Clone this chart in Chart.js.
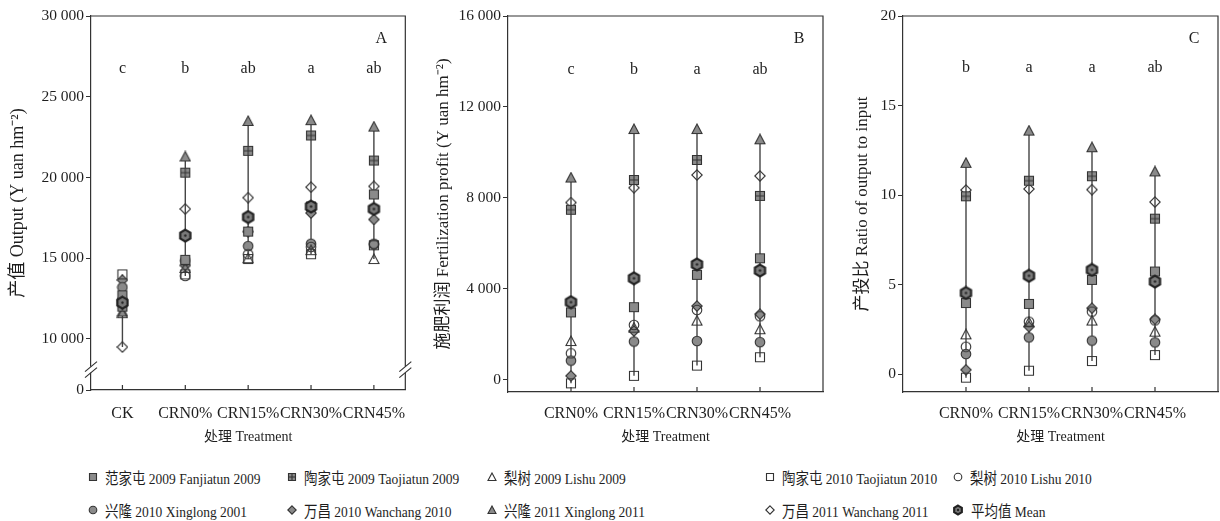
<!DOCTYPE html>
<html>
<head>
<meta charset="utf-8">
<script src="https://cdn.jsdelivr.net/npm/chart.js@4.4.1/dist/chart.umd.min.js"></script>
<style>
  body { margin: 0; background: #fff; width: 1220px; height: 521px; overflow: hidden; position: relative;
         font-family: "Liberation Serif", "Noto Sans CJK SC", serif; color: #1e1e1e; }
  canvas.panel { position: absolute; top: 0; }
  #legend .item { position: absolute; height: 20px; display: flex; align-items: center; white-space: nowrap; }
  #legend .item canvas { display: block; margin-right: 7px; }
  #legend .item span { display: inline-block; font-size: 15.5px; transform: scaleX(0.87); transform-origin: left center; }
</style>
</head>
<body>
<canvas id="chartA" class="panel" style="left:0px" width="420" height="450"></canvas>
<canvas id="chartB" class="panel" style="left:426px" width="404" height="450"></canvas>
<canvas id="chartC" class="panel" style="left:845px" width="380" height="450"></canvas>
<div id="legend"></div>
<script>
// treatments
const treatA = ['CK', 'CRN0%', 'CRN15%', 'CRN30%', 'CRN45%'];
const treatBC = ['CRN0%', 'CRN15%', 'CRN30%', 'CRN45%'];

const siteNames = [
    '范家屯 2009 Fanjiatun 2009', '陶家屯 2009 Taojiatun 2009', '梨树 2009 Lishu 2009',
    '陶家屯 2010 Taojiatun 2010', '梨树 2010 Lishu 2010', '兴隆 2010 Xinglong 2001',
    '万昌 2010 Wanchang 2010', '兴隆 2011 Xinglong 2011', '万昌 2011 Wanchang 2011', '平均值 Mean'
];

// A: 产值 Output (Yuan/hm2), CK..CRN45%
const outFanjiatun09 = [12700, 14900, 16650, 18200, 18950];
const outTaojiatun09 = [12000, 20300, 21650, 22600, 21050];
const outLishu09     = [11600, 14400, 15000, 15500, 14950];
const outTaojiatun10 = [14000, 14000, 14950, 15250, 15800];
const outLishu10     = [12400, 13900, 15250, 15700, 15900];
const outXinglong10  = [13200, 14850, 15750, 15900, 15850];
const outWanchang10  = [13650, 14550, 16650, 17800, 17400];
const outXinglong11  = [11700, 21300, 23500, 23550, 23150];
const outWanchang11  = [9500, 18050, 18750, 19400, 19450];
const outMean        = [12250, 16400, 17550, 18200, 18050];

// B: 施肥利润 Fertilization profit, CRN0%..CRN45%
const proFanjiatun09 = [2970, 3200, 4620, 5350];
const proTaojiatun09 = [7480, 8790, 9670, 8090];
const proLishu09     = [1710, 2300, 2610, 2230];
const proTaojiatun10 = [-150, 180, 630, 1000];
const proLishu10     = [1170, 2420, 3080, 2800];
const proXinglong10  = [850, 1690, 1710, 1660];
const proWanchang10  = [180, 2150, 3250, 2890];
const proXinglong11  = [8900, 11030, 11030, 10580];
const proWanchang11  = [7800, 8450, 9010, 8970];
const proMean        = [3420, 4470, 5080, 4810];

// C: 产投比 Ratio of output to input
const ratFanjiatun09 = [3.97, 3.92, 5.26, 5.73];
const ratTaojiatun09 = [9.93, 10.8, 11.05, 8.68];
const ratLishu09     = [2.22, 2.9, 2.99, 2.37];
const ratTaojiatun10 = [-0.2, 0.19, 0.73, 1.06];
const ratLishu10     = [1.53, 2.93, 3.49, 3.0];
const ratXinglong10  = [1.12, 2.05, 1.87, 1.77];
const ratWanchang10  = [0.24, 2.65, 3.68, 3.06];
const ratXinglong11  = [11.8, 13.6, 12.67, 11.32];
const ratWanchang11  = [10.28, 10.34, 10.3, 9.61];
const ratMean        = [4.53, 5.49, 5.82, 5.17];

// significance letters
const sigOut = ['c', 'b', 'ab', 'a', 'ab'];
const sigPro = ['c', 'b', 'a', 'ab'];
const sigRat = ['b', 'a', 'a', 'ab'];

// y tick labels
const outTicks = [10000, 15000, 20000, 25000, 30000];
const outFloor = 6840;   // broken axis, shown as 0
const proTicks = [0, 4000, 8000, 12000, 16000];
const ratTicks = [0, 5, 10, 15, 20];

const siteMarkers = ['sqFill', 'sqCross', 'triOpen', 'sqOpen', 'circOpen', 'circFill', 'diaFill', 'triFill', 'diaOpen', 'mean'];

const textColor = '#1e1e1e';
const serif = '"Liberation Serif", "Noto Sans CJK SC", serif';
Chart.defaults.font.family = serif;
Chart.defaults.color = textColor;

function fmt(v) {
    return String(v).replace(/\B(?=(\d{3})+(?!\d))/g, ' ');
}

function makeMarker(kind, s) {
    const c = document.createElement('canvas');
    c.width = s;
    c.height = s;
    const g = c.getContext('2d');
    const m = s / 2;
    g.lineWidth = 1.1;
    g.strokeStyle = '#333';
    g.fillStyle = '#8a8a8a';
    g.beginPath();
    if (kind.startsWith('sq')) {
        g.rect(1.5, 1.5, s - 3, s - 3);
    } else if (kind.startsWith('circ')) {
        g.arc(m, m, m - 1.2, 0, Math.PI * 2);
    } else if (kind.startsWith('tri')) {
        g.moveTo(m, 1); g.lineTo(s - 1, s - 1.5); g.lineTo(1, s - 1.5); g.closePath();
    } else if (kind.startsWith('dia')) {
        g.moveTo(m, 0.8); g.lineTo(s - 0.8, m); g.lineTo(m, s - 0.8); g.lineTo(0.8, m); g.closePath();
    } else {
        for (let i = 0; i < 6; i++) {
            const a = Math.PI / 3 * i - Math.PI / 2;
            const px = m + (m - 1.6) * Math.cos(a), py = m + (m - 1.6) * Math.sin(a);
            i ? g.lineTo(px, py) : g.moveTo(px, py);
        }
        g.closePath();
        g.lineWidth = 2.2;
        g.strokeStyle = '#222';
        g.fillStyle = '#7a7a7a';
    }
    if (!kind.endsWith('Open')) g.fill();
    g.stroke();
    if (kind === 'sqCross') {
        g.beginPath();
        g.moveTo(m, 1.5); g.lineTo(m, s - 1.5);
        g.moveTo(1.5, m); g.lineTo(s - 1.5, m);
        g.stroke();
    }
    if (kind === 'mean') {
        g.fillStyle = '#222';
        g.beginPath();
        g.arc(m, m, 1.2, 0, Math.PI * 2);
        g.fill();
    }
    return c;
}

function decor(cfg) {
    return {
        id: 'decor',
        afterDraw(chart) {
            const {ctx, chartArea: a, scales: {x, y}} = chart;
            ctx.save();
            ctx.strokeStyle = '#333';
            ctx.lineWidth = 1.2;
            ctx.beginPath();
            ctx.moveTo(a.left, a.top);
            ctx.lineTo(a.right, a.top);
            ctx.lineTo(a.right, a.bottom);
            x.ticks.forEach(t => {
                const px = x.getPixelForValue(t.value);
                ctx.moveTo(px, a.bottom);
                ctx.lineTo(px, a.bottom - 5);
            });
            ctx.stroke();
            if (cfg.breakAt != null) {
                const py = y.getPixelForValue(cfg.breakAt);
                [a.left, a.right].forEach(ex => {
                    ctx.fillStyle = '#fff';
                    ctx.fillRect(ex - 2, py - 3, 4, 6);
                    ctx.beginPath();
                    for (const d of [-3, 3]) {
                        ctx.moveTo(ex - 6, py + d + 5);
                        ctx.lineTo(ex + 6, py + d - 5);
                    }
                    ctx.stroke();
                });
            }
            ctx.fillStyle = textColor;
            ctx.font = '16px ' + serif;
            ctx.textAlign = 'center';
            ctx.textBaseline = 'middle';
            cfg.sig.forEach((s, i) => ctx.fillText(s, x.getPixelForValue(i + 1), y.getPixelForValue(cfg.sigAt)));
            ctx.fillText(cfg.letter, a.right - 24, a.top + 23);
            ctx.restore();
        }
    };
}

function makePanel(id, cfg) {
    const series = cfg.series;
    const datasets = [];
    // whisker from lowest to highest value of each treatment
    cfg.cats.forEach((c, i) => {
        const vals = series.map(s => s[i]);
        datasets.push({
            type: 'line',
            data: [{x: i + 1, y: Math.min(...vals)}, {x: i + 1, y: Math.max(...vals)}],
            borderColor: '#444',
            borderWidth: 1.4,
            pointRadius: 0,
            showLine: true,
            order: 10
        });
    });
    series.forEach((s, k) => {
        datasets.push({
            label: siteNames[k],
            data: s.map((v, i) => ({x: i + 1, y: v})),
            pointStyle: makeMarker(siteMarkers[k], k === 9 ? 15 : 12),
            pointRadius: 6,
            order: k === 9 ? -1 : 1
        });
    });

    const tickFont = {size: 15.5, family: serif};
    new Chart(document.getElementById(id), {
        type: 'scatter',
        data: {datasets},
        options: {
            responsive: false,
            animation: false,
            events: [],
            layout: {padding: {top: 16, right: cfg.padRight, left: 0, bottom: 0}},
            plugins: {legend: {display: false}, tooltip: {enabled: false}},
            scales: {
                x: {
                    type: 'linear',
                    min: cfg.xMin,
                    max: cfg.xMax,
                    afterBuildTicks: sc => { sc.ticks = cfg.cats.map((c, i) => ({value: i + 1})); },
                    ticks: {callback: v => cfg.cats[v - 1] || '', font: {size: 16, family: serif}, padding: cfg.xPad, autoSkip: false, maxRotation: 0},
                    grid: {drawOnChartArea: false, drawTicks: false},
                    border: {color: '#333', width: 1.2},
                    title: {display: true, text: '处理 Treatment', font: {size: 14, family: serif}, padding: {top: 4, bottom: 4}},
                    afterFit: sc => { sc.height = cfg.xHeight; }
                },
                y: {
                    min: cfg.yMin,
                    max: cfg.yMax,
                    afterBuildTicks: sc => { sc.ticks = cfg.yTicks.map(v => ({value: v})); },
                    ticks: {callback: cfg.yLabel, font: tickFont, padding: 2},
                    grid: {drawOnChartArea: false, tickLength: 5, tickColor: '#333'},
                    border: {color: '#333', width: 1.2},
                    title: {display: true, text: cfg.yTitle, font: {size: cfg.yTitleSize, family: serif}, padding: {top: 7, bottom: 0}},
                    afterFit: sc => { sc.width = cfg.yWidth; }
                }
            }
        },
        plugins: [decor(cfg)]
    });
}

makePanel('chartA', {
    cats: treatA, xMin: 0.5, xMax: 5.5,
    series: [outFanjiatun09, outTaojiatun09, outLishu09, outTaojiatun10, outLishu10,
             outXinglong10, outWanchang10, outXinglong11, outWanchang11, outMean],
    yMin: outFloor, yMax: 30000,
    yTicks: [outFloor, ...outTicks],
    yLabel: v => v === outFloor ? '0' : fmt(v),
    yTitle: '产值 Output (Y uan hm⁻²)', yTitleSize: 18,
    yWidth: 91, padRight: 10, xHeight: 60, xPad: 14,
    sig: sigOut, sigAt: 26700, letter: 'A', breakAt: 8100
});

makePanel('chartB', {
    cats: treatBC, xMin: 0, xMax: 5,
    series: [proFanjiatun09, proTaojiatun09, proLishu09, proTaojiatun10, proLishu10,
             proXinglong10, proWanchang10, proXinglong11, proWanchang11, proMean],
    yMin: -530, yMax: 16000,
    yTicks: proTicks,
    yLabel: v => fmt(v),
    yTitle: '施肥利润 Fertilization profit (Y uan hm⁻²)', yTitleSize: 17,
    yWidth: 82, padRight: 6, xHeight: 58, xPad: 12,
    sig: sigPro, sigAt: 13650, letter: 'B'
});

makePanel('chartC', {
    cats: treatBC, xMin: 0, xMax: 5,
    series: [ratFanjiatun09, ratTaojiatun09, ratLishu09, ratTaojiatun10, ratLishu10,
             ratXinglong10, ratWanchang10, ratXinglong11, ratWanchang11, ratMean],
    yMin: -1, yMax: 20,
    yTicks: ratTicks,
    yLabel: v => String(v),
    yTitle: '产投比 Ratio of output to input', yTitleSize: 17,
    yWidth: 58, padRight: 3, xHeight: 58, xPad: 12,
    sig: sigRat, sigAt: 17.1, letter: 'C'
});

// legend, two rows of five
const legendCols = [93, 292, 492, 770, 958];
const legendRows = [477, 510];
const legend = document.getElementById('legend');
siteNames.forEach((name, k) => {
    const size = k === 9 ? 12 : 10;
    const item = document.createElement('div');
    item.className = 'item';
    item.style.left = (legendCols[k % 5] - size / 2) + 'px';
    item.style.top = (legendRows[Math.floor(k / 5)] - 10) + 'px';
    item.appendChild(makeMarker(siteMarkers[k], size));
    const span = document.createElement('span');
    span.textContent = name;
    item.appendChild(span);
    legend.appendChild(item);
});
</script>
</body>
</html>
